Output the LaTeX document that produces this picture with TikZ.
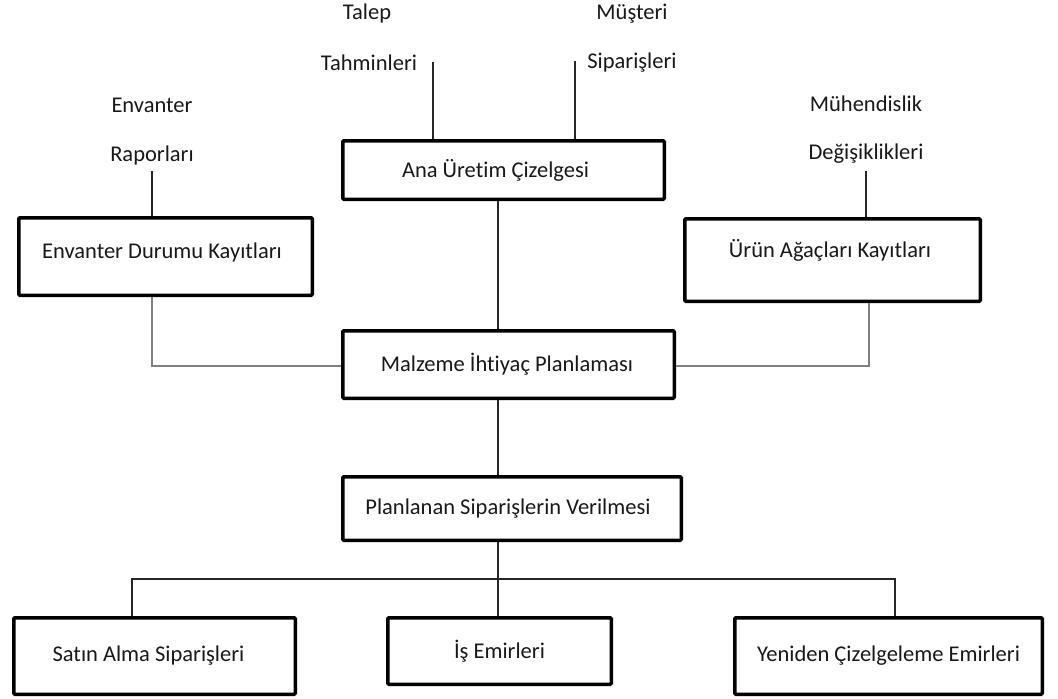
\documentclass[tikz,border=0pt]{standalone}
\usepackage{fontspec}
\setmainfont{Carlito}[Ligatures={NoCommon,NoRare}]
\begin{document}
\begin{tikzpicture}[x=1pt,y=-1pt,
  box/.style={draw=black, line width=3.5pt, rounded corners=1pt, fill=white,
    inner sep=0pt, font=\fontsize{22.5}{26}\selectfont, text=black!90},
  raised/.style={text height=17pt, text depth={#1}},
  lbl/.style={inner sep=0pt, font=\fontsize{22.5}{26}\selectfont, text=black!90},
  link/.style={draw=black!85, line width=1.2pt},
  glink/.style={draw=black!50, line width=1.6pt}]
\useasboundingbox (0,0) rectangle (1058,699);
\fill[white] (0,0) rectangle (1058,699);

% boxes: centre at the middle of the outer edges, size = outer size minus stroke
\node[box, minimum width=321.5pt, minimum height=58.5pt] (ana) at (503.5,170) {Ana Üretim Çizelgesi\hspace*{16pt}};
\node[box, raised=14pt, minimum width=293.5pt, minimum height=77.5pt] (edk) at (165.5,256.5) {Envanter Durumu Kayıtları\hspace*{7pt}};
\node[box, raised=23pt, minimum width=295.5pt, minimum height=82.5pt] (urun) at (832.5,260) {Ürün Ağaçları Kayıtları\hspace*{5pt}};
\node[box, minimum width=331.5pt, minimum height=67.5pt] (mip) at (508.5,364.5) {Malzeme İhtiyaç Planlaması\hspace*{3pt}};
\node[box, minimum width=338.5pt, minimum height=63.5pt] (pso) at (512,508.5) {Planlanan Siparişlerin Verilmesi\hspace*{8pt}};
\node[box, minimum width=281.5pt, minimum height=76.5pt] (satin) at (154.5,656) {Satın Alma Siparişleri\hspace*{12pt}};
\node[box, minimum width=223.5pt, minimum height=66.5pt] (is) at (499.5,651) {İş Emirleri};
\node[box, minimum width=307.5pt, minimum height=76.5pt] (yen) at (888.5,656) {Yeniden Çizelgeleme Emirleri};

% input labels
\node[lbl] (talep) at (367,14) {Talep};
\node[lbl] (tahmin) at (369,63) {Tahminleri};
\node[lbl] (musteri) at (632,14) {Müşteri};
\node[lbl] (siparis) at (632,63) {Siparişleri};
\node[lbl] (envanter) at (152,105) {Envanter};
\node[lbl] (rapor) at (152,155) {Raporları};
\node[lbl] (muhendis) at (866,104) {Mühendislik};
\node[lbl] (degisik) at (866,154) {Değişiklikleri};

% free ends of the input lines
\coordinate (tIn) at (433,62);
\coordinate (sIn) at (575,61);
\coordinate (rIn) at (152,171);
\coordinate (dIn) at (866,171);
\coordinate (fork) at (498,579);

\draw[link] (tIn) -- (tIn |- ana.north);
\draw[link] (sIn) -- (sIn |- ana.north);
\draw[link] (rIn) -- (rIn |- edk.north);
\draw[link] (dIn) -- (dIn |- urun.north);

\draw[link] (ana.south -| fork) -- (mip.north -| fork);
\draw[link] (mip.south -| fork) -- (pso.north -| fork);
\draw[link] (pso.south -| fork) -- (is.north -| fork);
\draw[link] (satin.north -| 132,0) |- (fork) -| (yen.north -| 895,0);

\draw[glink] (edk.south -| 152,0) |- (mip.west |- 0,366);
\draw[glink] (urun.south -| 869,0) |- (mip.east |- 0,366);
\end{tikzpicture}
\end{document}
